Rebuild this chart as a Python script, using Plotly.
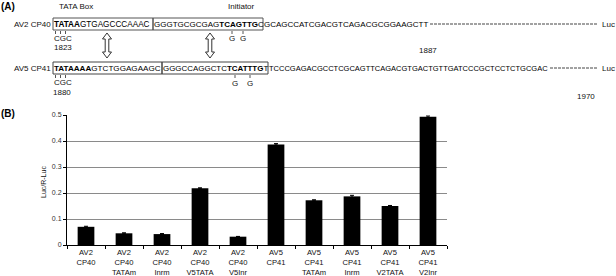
import plotly.graph_objects as go

# ---------------- data ----------------
categories = ["AV2 CP40", "AV2 CP40 TATAm", "AV2 CP40 Inrm", "AV2 CP40 V5TATA",
              "AV2 CP40 V5Inr", "AV5 CP41", "AV5 CP41 TATAm", "AV5 CP41 Inrm",
              "AV5 CP41 V2TATA", "AV5 CP41 V2Inr"]
tick_labels = ["AV2<br>CP40", "AV2<br>CP40<br>TATAm", "AV2<br>CP40<br>Inrm",
               "AV2<br>CP40<br>V5TATA", "AV2<br>CP40<br>V5Inr", "AV5<br>CP41",
               "AV5<br>CP41<br>TATAm", "AV5<br>CP41<br>Inrm", "AV5<br>CP41<br>V2TATA",
               "AV5<br>CP41<br>V2Inr"]
luc_ratio = [0.070, 0.045, 0.042, 0.218, 0.032, 0.387, 0.172, 0.187, 0.150, 0.493]
luc_err = [0.002, 0.002, 0.002, 0.002, 0.001, 0.003, 0.002, 0.004, 0.002, 0.003]
y_ticks = [0, 0.1, 0.2, 0.3, 0.4, 0.5]

# sequences (panel A)
seq1 = ["<b>TATAA</b>GTGAGCCCAAAC", "GGGTGCGCGAG<b>TCAGTTG</b>C",
        "GCAGCCATCGACGTCAGACGCGGAAGCTT"]
seq2 = ["<b>TATAAAA</b>GTCTGGAGAAGC", "GGGCCAGGCTC<b>TCATTTG</b>T",
        "TCCCGAGACGCCTCGCAGTTCAGACGTGACTGTTGATCCCGCTCCTCTGCGAC"]

# ---------------- geometry helpers (pixel -> paper) ----------------
W, H = 616, 276
L, R, T, B = 67, 447, 115, 245


def px(x):
    return (x - L) / (R - L)


def py(y):
    return (B - y) / (B - T)


FONT = "Liberation Sans, Arial, sans-serif"

fig = go.Figure()
fig.add_trace(go.Bar(
    x=categories, y=luc_ratio, marker_color="black", width=0.44,
    error_y=dict(type="data", array=luc_err, color="black", thickness=1, width=2),
))

ann = []


def text(x, y, s, size=8, xanchor="left", color="#111", angle=0):
    ann.append(dict(x=px(x), y=py(y), xref="paper", yref="paper", text=s,
                    showarrow=False, xanchor=xanchor, yanchor="middle",
                    font=dict(family=FONT, size=size, color=color),
                    textangle=angle, borderpad=0))


shapes = []


def line(x0, y0, x1, y1, color="#555", w=1, dash=None):
    d = dict(type="line", xref="paper", yref="paper", x0=px(x0), y0=py(y0),
             x1=px(x1), y1=py(y1), line=dict(color=color, width=w))
    if dash:
        d["line"]["dash"] = dash
    shapes.append(d)


def rect(x0, y0, x1, y1, color="#555", w=1):
    shapes.append(dict(type="rect", xref="paper", yref="paper", x0=px(x0), y0=py(y0),
                       x1=px(x1), y1=py(y1), line=dict(color=color, width=w)))


def darrow(cx, y0, y1):
    pts = [(cx, y0), (cx + 4.5, y0 + 6), (cx + 1.8, y0 + 6), (cx + 1.8, y1 - 6),
           (cx + 4.5, y1 - 6), (cx, y1), (cx - 4.5, y1 - 6), (cx - 1.8, y1 - 6),
           (cx - 1.8, y0 + 6), (cx - 4.5, y0 + 6)]
    p = "M " + " L ".join(f"{px(a):.5f},{py(b):.5f}" for a, b in pts) + " Z"
    shapes.append(dict(type="path", xref="paper", yref="paper", path=p,
                       line=dict(color="#333", width=1), fillcolor="white"))


# panel labels
text(0, 6, "<b>(A)</b>", size=10, color="black")
text(0, 113, "<b>(B)</b>", size=10, color="black")
text(58, 6, "TATA Box", size=8)
text(227, 6, "Initiator", size=8)

# line 1
y1 = 24
text(13, y1, "AV2 CP40", size=8)
rect(53, 18, 153, 30)
rect(153, 18, 263, 30)
text(53, y1, seq1[0], size=8.2, color="black")
text(153, y1, seq1[1], size=8.0, color="black")
text(263, y1, seq1[2], size=8.0, color="black")
line(430, y1, 598, y1, color="#444", w=1, dash="3px,1px")
text(616, y1, "Luc", size=8, xanchor="right")
for xx in (55.5, 60.5, 65.5):
    line(xx, 31, xx, 34)
text(53, 38, "CGC", size=8)
text(53, 47, "1823", size=8)
for xx in (232, 243):
    line(xx, 31, xx, 34)
    text(xx, 38, "G", size=8, xanchor="center")
text(428, 50, "1887", size=8, xanchor="center")

darrow(107, 33, 58)
darrow(210, 33, 58)

# line 2
y2 = 68
text(13, y2, "AV5 CP41", size=8)
rect(53, 62, 162, 74, color="#444")
rect(162, 62, 268, 74, color="#444")
text(53, y2, seq2[0], size=8.1, color="black")
text(162, y2, seq2[1], size=7.95, color="black")
text(268, y2, seq2[2], size=7.5, color="black")
line(550, y2, 598, y2, color="#444", w=1, dash="3px,1px")
text(616, y2, "Luc", size=8, xanchor="right")
for xx in (55.5, 60.5, 65.5):
    line(xx, 75, xx, 78)
text(53, 82, "CGC", size=8)
text(52, 92, "1880", size=8)
for xx in (235, 250):
    line(xx, 75, xx, 78)
    text(xx, 83, "G", size=8, xanchor="center")
text(586, 96, "1970", size=8, xanchor="center")

# y-axis title
text(43, 182, "Luc/R-Luc", size=7, xanchor="center", angle=-90)

fig.update_layout(
    template="none",
    width=W, height=H, autosize=False,
    margin=dict(l=L, r=W - R, t=T, b=H - B, pad=0),
    paper_bgcolor="white", plot_bgcolor="white",
    showlegend=False, bargap=0.56,
    font=dict(family=FONT, color="#111"),
    annotations=ann, shapes=shapes,
    xaxis=dict(tickvals=categories, ticktext=tick_labels, showline=True,
               linecolor="black", linewidth=1, ticks="outside", ticklen=3,
               tickson="boundaries", tickcolor="black", tickangle=0, automargin=False,
               tickfont=dict(family=FONT, size=7.6, color="#111"), showgrid=False),
    yaxis=dict(range=[0, 0.5], tickvals=y_ticks, showline=True, linecolor="black",
               linewidth=1, ticks="outside", ticklen=3, tickcolor="black",
               gridcolor="#8a8a8a", gridwidth=1, zeroline=False, automargin=False,
               tickfont=dict(family=FONT, size=7, color="#333")),
)

fig.write_html("out.html", config={"displayModeBar": False},
               post_script="document.body.style.margin='0px';"
                           "document.body.style.overflow='hidden';")
